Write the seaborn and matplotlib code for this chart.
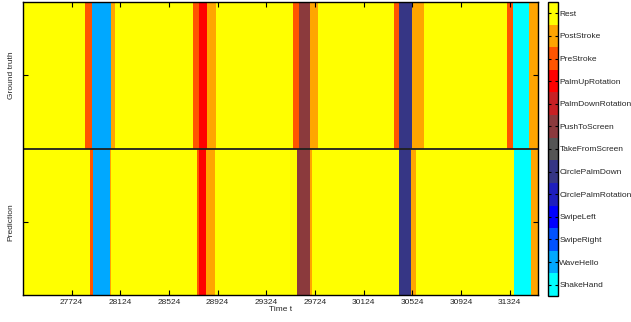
import matplotlib
matplotlib.use("Agg")
import matplotlib.pyplot as plt
import numpy as np
import seaborn as sns
from matplotlib.colors import ListedColormap

# class names, bottom to top of the colour bar
classes = ['ShakeHand', 'WaveHello', 'SwipeRight', 'SwipeLeft',
           'CirclePalmRotation', 'CirclePalmDown', 'TakeFromScreen',
           'PushToScreen', 'PalmDownRotation', 'PalmUpRotation',
           'PreStroke', 'PostStroke', 'Rest']
class_colors = ['#00FFFF', '#00A8FF', '#0052FF', '#0000FF',
                '#1E1EBE', '#363685', '#555555',
                '#8B3A3D', '#C82024', '#FF0000',
                '#FF5500', '#FFA500', '#FFFF00']

row_names = ['Ground truth', 'Prediction']
t_end = 31557

# segment start times and labels
gt_starts = [27325, 27836, 27893, 28047, 28085, 28718, 28772, 28833, 28915,
             29542, 29591, 29687, 29747, 30371, 30412, 30525, 30620,
             31299, 31354, 31483]
gt_labels = ['Rest', 'PreStroke', 'WaveHello', 'PostStroke', 'Rest',
             'PreStroke', 'PalmUpRotation', 'PostStroke', 'Rest',
             'PreStroke', 'PushToScreen', 'PostStroke', 'Rest',
             'PreStroke', 'CirclePalmDown', 'PostStroke', 'Rest',
             'PreStroke', 'ShakeHand', 'PostStroke']

pred_starts = [27325, 27872, 27901, 28039, 28048, 28751, 28770, 28827, 28901,
               29577, 29685, 29702, 30412, 30517, 30558, 31359, 31497]
pred_labels = ['Rest', 'PreStroke', 'WaveHello', 'PostStroke', 'Rest',
               'PreStroke', 'PalmUpRotation', 'PostStroke', 'Rest',
               'PushToScreen', 'PostStroke', 'Rest',
               'CirclePalmDown', 'PostStroke', 'Rest',
               'ShakeHand', 'PostStroke']

x_ticks = [27724, 28124, 28524, 28924, 29324, 29724, 30124, 30524, 30924, 31324]


def expand(starts, labels):
    """Turn segment starts into one class code per time step."""
    lengths = np.diff(starts + [t_end])
    codes = [classes.index(lab) for lab in labels]
    return np.repeat(codes, lengths)


t0 = gt_starts[0]
grid = np.vstack([expand(gt_starts, gt_labels),
                  expand(pred_starts, pred_labels)])

plt.rcParams['font.family'] = ['Liberation Sans', 'DejaVu Sans']
fig = plt.figure(figsize=(6.31, 3.22), dpi=100)
ax = fig.add_axes([23 / 631, 1 - 295 / 322, 515 / 631, 293 / 322])
cax = fig.add_axes([548 / 631, 1 - 296 / 322, 10 / 631, 294 / 322])

cmap = ListedColormap(class_colors)
sns.heatmap(
    grid,
    ax=ax,
    cmap=cmap,
    vmin=-0.5,
    vmax=len(classes) - 0.5,
    cbar_ax=cax,
    xticklabels=False,
    yticklabels=False,
    rasterized=True,
)

ax.axhline(1, color='#202020', lw=1.3)
for sp in ax.spines.values():
    sp.set_visible(True)
    sp.set_color('black')
    sp.set_linewidth(1.0)

ax.set_xticks([t - t0 + 0.5 for t in x_ticks])
ax.set_xticklabels([str(t) for t in x_ticks], fontsize=6, color='#262626')
ax.set_yticks([0.5, 1.5])
ax.set_yticklabels(row_names, rotation=90, va='center', fontsize=6,
                   color='#262626')
ax.tick_params(axis='x', direction='in', top=True, bottom=True,
               length=3.5, width=0.8, pad=3)
ax.tick_params(axis='y', direction='in', left=True, right=True,
               length=3.5, width=0.8, pad=6)
ax.set_xlabel('Time t', fontsize=6, labelpad=0, color='#262626')

cbar = ax.collections[0].colorbar
cbar.set_ticks(np.arange(len(classes)))
cbar.set_ticklabels(classes)
cbar.outline.set_edgecolor('black')
cbar.outline.set_linewidth(1.0)
cax.tick_params(direction='in', left=True, right=True, length=2.5,
                width=0.8, labelsize=6, labelcolor='#262626', pad=1)

fig.savefig('out.png', dpi=100)
